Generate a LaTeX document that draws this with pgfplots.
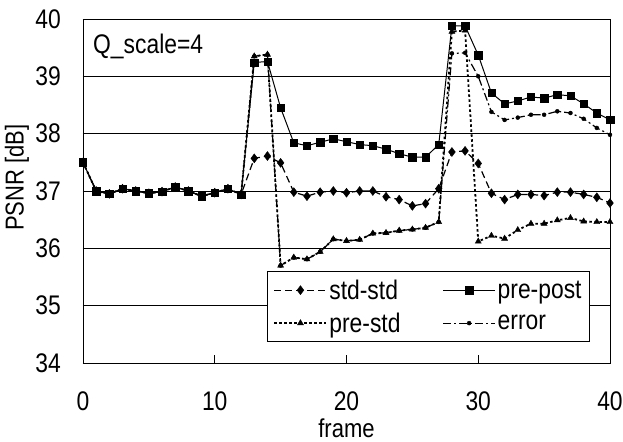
\documentclass[border=0pt]{standalone}
\usepackage{fontspec}
\setmainfont{Liberation Sans}[FakeStretch=0.85]
\usepackage{pgfplots}
\usepackage{pgfplotstable}
\pgfplotsset{compat=1.18}

\pgfplotstableread{
f  ss    pp    ps    er
0  37.50 37.50 37.50 37.50
1  37.00 37.00 37.00 37.00
2  36.95 36.95 36.95 36.95
3  37.04 37.04 37.04 37.04
4  37.00 37.00 37.00 37.00
5  36.96 36.96 36.96 36.96
6  36.99 36.99 36.99 36.99
7  37.07 37.07 37.07 37.07
8  37.00 37.00 37.00 37.00
9  36.91 36.91 36.91 36.91
10 36.97 36.97 36.97 36.97
11 37.04 37.04 37.04 37.04
12 36.94 36.94 36.94 36.94
13 37.57 39.24 39.35 39.35
14 37.61 39.26 39.38 39.38
15 37.49 38.45 35.70 35.70
16 36.98 37.84 35.84 35.84
17 36.91 37.79 35.81 35.81
18 36.98 37.85 35.94 35.94
19 37.00 37.91 36.16 36.16
20 36.97 37.86 36.13 36.13
21 37.00 37.81 36.15 36.15
22 37.00 37.79 36.26 36.26
23 36.90 37.73 36.27 36.27
24 36.85 37.65 36.31 36.31
25 36.74 37.59 36.33 36.33
26 36.78 37.59 36.36 36.36
27 37.04 37.81 36.46 36.46
28 37.68 39.88 39.78 39.40
29 37.70 39.88 39.80 39.41
30 37.48 39.37 36.12 39.00
31 36.96 38.71 36.22 38.38
32 36.85 38.52 36.17 38.24
33 36.94 38.57 36.32 38.28
34 36.94 38.64 36.43 38.33
35 36.92 38.62 36.43 38.33
36 36.98 38.68 36.49 38.39
37 36.98 38.66 36.53 38.36
38 36.94 38.52 36.47 38.26
39 36.89 38.36 36.46 38.10
40 36.79 38.24 36.46 37.98
}\data

\begin{document}
\begin{tikzpicture}
\begin{axis}[
  name=ax,
  scale only axis, width=527bp, height=344bp,
  xmin=0, xmax=40, ymin=34, ymax=40,
  xtick={0,10,20,30,40}, ytick={34,35,...,40},
  ymajorgrids, grid style={black, line width=0.6bp},
  axis line style={black, line width=0.8bp},
  tick style={black, line width=0.6bp},
  major tick length=8bp,
  tick align=inside, xtick pos=bottom, ytick pos=left,
  /pgf/number format/assume math mode=true,
  ticklabel style={font=\fontsize{27}{32}\selectfont, inner sep=0pt},
  xticklabel style={anchor=north, yshift=-29bp},
  yticklabel style={anchor=east, xshift=-22bp},
  xlabel={frame}, ylabel={PSNR [dB]},
  xlabel style={at={(axis description cs:0.5,0)}, anchor=base, yshift=-74bp, inner sep=0pt, font=\fontsize{26}{31}\selectfont},
  ylabel style={at={(axis description cs:-0.1252,0.539)}, anchor=center, inner sep=0pt, font=\fontsize{26}{31}\selectfont},
  clip=false,
  legend columns=2,
  legend cell align=left,
  legend style={at={(0.962,0.061)}, anchor=south east, draw=black, line width=0.8bp, fill=white,
    font=\fontsize{27}{32}\selectfont, inner xsep=6bp, inner ysep=6bp, row sep=8bp,
    /tikz/every even column/.append style={column sep=40bp}},
  legend image code/.code={\draw[mark repeat=2,mark phase=2,#1] plot coordinates {(0bp,0bp) (26bp,0bp) (52bp,0bp)};},
]
\addplot[black, line width=1.2bp, dash pattern=on 7bp off 4bp, mark=diamond*, mark size=4.5bp, mark options={solid, line width=0.4bp}] table[x=f,y=ss] {\data};
\addlegendentry{std-std}
\addplot[black, line width=1bp, mark=square*, mark size=3.7bp, mark options={solid, line width=0.4bp}] table[x=f,y=pp] {\data};
\addlegendentry{pre-post}
\addplot[black, line width=1.8bp, dash pattern=on 2.5bp off 2.5bp, mark=triangle*, mark size=3.5bp, mark options={solid, line width=0.4bp}] table[x=f,y=ps] {\data};
\addlegendentry{pre-std}
\addplot[black, line width=1.2bp, dash pattern=on 8bp off 3bp on 2bp off 3bp, mark=*, mark size=2bp, mark options={solid, line width=0.4bp}] table[x=f,y=er] {\data};
\addlegendentry{error}
\node[anchor=west, inner sep=0pt, font=\fontsize{27}{32}\selectfont] at (axis description cs:0.019,0.919) {Q\_scale=4};
\end{axis}
\pgfresetboundingbox
\path (ax.south west) ++(-83bp,-79bp) rectangle ++(623bp,442bp);
\end{tikzpicture}
\end{document}
